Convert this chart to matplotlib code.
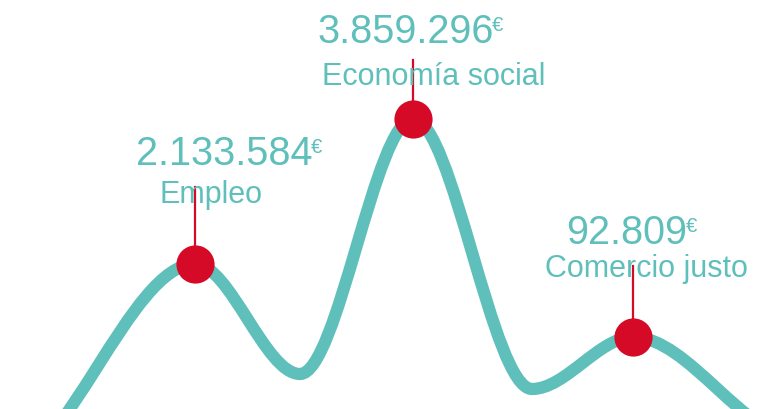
import matplotlib.pyplot as plt
from matplotlib.path import Path
from matplotlib.patches import PathPatch

# Curve waypoints (x in px, height above bottom edge in px)
curve_x = [0, 195, 300, 413, 532, 633, 800]
curve_h = [-60, 145, 35, 290, 20, 72, -30]

# Highlighted peaks
peak_idx = [1, 3, 5]
categories = ['Empleo', 'Economía social', 'Comercio justo']
amounts = [2133584, 3859296, 92809]

teal = '#5FBFBB'
red = '#D50A27'
W, H = 757, 410

# label layout (left x, baseline heights)
value_x = [136, 317, 566]
value_base = [H - 165, H - 43, H - 244]
cat_x = [160, 322, 545]
cat_base = [H - 203, H - 85, H - 277]
stem_top = [H - 188, H - 61, H - 267]

plt.rcParams['font.family'] = ['Liberation Sans', 'DejaVu Sans']

fig = plt.figure(figsize=(W / 100, H / 100), dpi=100)
ax = fig.add_axes([0, 0, 1, 1])
ax.set_xlim(0, W)
ax.set_ylim(0, H)
ax.axis('off')

# smooth curve: cubic segments with flat tangents at every waypoint
verts = [(curve_x[0], curve_h[0])]
codes = [Path.MOVETO]
for i in range(1, len(curve_x)):
    x0, y0 = curve_x[i - 1], curve_h[i - 1]
    x1, y1 = curve_x[i], curve_h[i]
    dx = (x1 - x0) / 3
    verts += [(x0 + dx, y0), (x1 - dx, y1), (x1, y1)]
    codes += [Path.CURVE4] * 3
ax.add_patch(PathPatch(Path(verts, codes), facecolor='none', edgecolor=teal,
                       lw=8.8, capstyle='butt', joinstyle='round'))

for k, i in enumerate(peak_idx):
    px, py = curve_x[i], curve_h[i]
    ax.plot([px, px], [py, stem_top[k]], color=red, lw=1.6, zorder=3)
    ax.plot(px, py, 'o', ms=27.5, color=red, mec='none', zorder=4)

    num = ax.text(value_x[k], value_base[k], f'{amounts[k]:,}'.replace(',', '.'),
                  fontsize=28.5, color=teal, ha='left', va='baseline')
    ax.annotate('€', xy=(1, 1), xycoords=num, xytext=(-1, -2.5),
                textcoords='offset points', fontsize=14.5, color=teal,
                ha='left', va='top')
    ax.text(cat_x[k], cat_base[k], categories[k], fontsize=22, color=teal,
            ha='left', va='baseline')

fig.savefig('out.png', dpi=100)
